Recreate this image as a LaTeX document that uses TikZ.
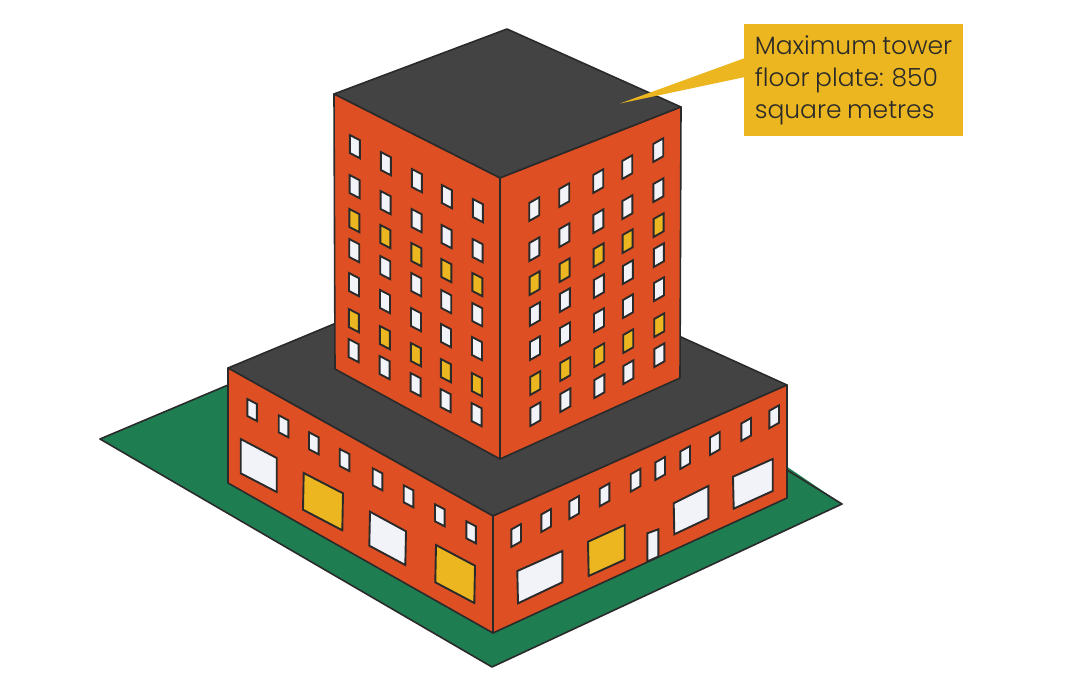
\documentclass[tikz,border=0pt]{standalone}
\usepackage{fontspec}
\setmainfont{Poppins Light}[BoldFont={Poppins},WordSpace=0.8]
\definecolor{brick}{HTML}{DE5023}
\definecolor{roof}{HTML}{434343}
\definecolor{lawn}{HTML}{1F7D52}
\definecolor{amber}{HTML}{EBB61F}
\definecolor{pane}{HTML}{F1F3F8}
\definecolor{ink}{HTML}{2A2A2A}
\tikzset{
  solid shape/.style={draw=ink,line width=1.6pt,line join=round},
  pane shape/.style={draw=ink,line width=1.9pt,line join=miter},
}
\newcommand\win[6]{\draw[pane shape,fill=#6] (#1,#2) -- (#1+#3,#2+#5) -- (#1+#3,#2+#5+#4) -- (#1,#2+#4) -- cycle;}
\newcommand\quadwin[9]{\draw[pane shape,fill=#9] (#1,#2) -- (#3,#4) -- (#5,#6) -- (#7,#8) -- cycle;}
\begin{document}
\begin{tikzpicture}[x=1pt,y=-1pt]
\useasboundingbox (0,0) rectangle (1080,675);
% ground
\fill[lawn] (100,439) -- (300,355) -- (600,340) -- (842,504) -- (492,667) -- cycle;
\draw[solid shape] (228,385) -- (100,439) -- (492,667) -- (842,504) -- (787,470);
% podium
\draw[solid shape,fill=roof] (228,368) -- (500,255) -- (787,385) -- (493,516) -- cycle;
\draw[solid shape,fill=brick] (228,368) -- (493,516) -- (493,633) -- (228,483) -- cycle;
\draw[solid shape,fill=brick] (493,516) -- (787,385) -- (787,498) -- (493,633) -- cycle;
% tower
\draw[solid shape,fill=roof] (507,29) -- (681,107) -- (500,178) -- (334,94) -- cycle;
\draw[solid shape,fill=brick] (334,94) -- (500,178) -- (500,459) -- (335,369) -- cycle;
\draw[solid shape,fill=brick] (500,178) -- (681,107) -- (680,378) -- (500,459) -- cycle;
% tower windows, left face
\foreach \x/\ys in {350/{135,175,209,239,273,309,339},
                    381/{152,191,225,256,290,326,356},
                    412/{169,209,243,273,308,343,373},
                    442/{185,225,259,290,324,359,389},
                    473/{199,239,273,303,337,373,403}}{
  \foreach \y [count=\r] in \ys {
    \ifnum\r=3 \def\c{amber}\else\ifnum\r=6 \def\c{amber}\else\def\c{pane}\fi\fi
    \win{\x-0.2*\r}{\y}{10}{18}{5.2}{\c}
  }
}
% tower windows, right face (y of the lower left corner)
\foreach \x/\ys in {529/{221,261,295,326,360,395,426},
                    559/{207,247,282,312,346,381,412},
                    593/{193,233,267,298,332,367,398},
                    622/{179,219,253,284,318,353,384},
                    653/{162,202,237,267,301,337,367}}{
  \foreach \y [count=\r] in \ys {
    \ifnum\r=3 \def\c{amber}\else\ifnum\r=6 \def\c{amber}\else\def\c{pane}\fi\fi
    \win{\x+0.2*\r}{\y-18}{10}{18}{-5.7}{\c}
  }
}
% podium small windows, left face
\foreach \x/\y in {247.3/399,278.7/415.3,309/432.3,339.7/449,372.7/468.3,403.7/485.3,435/504.3,466.3/521.3}{
  \win{\x}{\y}{9.6}{17}{5}{pane}
}
% podium small windows, right face (y of the lower left corner)
\foreach \x/\y in {511.3/547,541.3/532,569.3/519,599.7/506.3,630.7/491.7,655.3/480,680.3/469,710/455,741.3/441,769.3/428.3}{
  \win{\x}{\y-17.5}{9.7}{17.5}{-5.5}{pane}
}
% podium large windows, left face
\quadwin{240.7}{439}{276.7}{458}{276.7}{492}{240.7}{473.3}{pane}
\quadwin{303.7}{473}{343}{493.3}{342.3}{530.3}{303}{509.7}{amber}
\quadwin{370}{511.7}{406}{531.3}{405.3}{565}{369.3}{545.7}{pane}
\quadwin{436}{545}{475}{565.7}{474.3}{603}{435.3}{582.3}{amber}
% podium large windows and door, right face
\quadwin{517.3}{571}{562.3}{551}{562.3}{582.3}{518}{603.3}{pane}
\quadwin{588}{541.7}{624.7}{525}{624.7}{559.7}{588.7}{576}{amber}
\quadwin{647.3}{533.3}{658.3}{529.3}{658.3}{556.5}{647.3}{561.5}{pane}
\quadwin{673.7}{503.3}{708.3}{486}{708.3}{518.3}{674.3}{534.3}{pane}
\quadwin{733}{476.7}{772.7}{459}{772.7}{491}{733.7}{508.7}{pane}
% callout
\node[anchor=north west,fill=amber,text=ink,minimum width=219pt,minimum height=112pt,
      inner xsep=0pt,inner ysep=0pt,align=left,outer sep=0pt,
      font=\fontsize{25}{32}\selectfont] (callout) at (744,24)
  {Maximum tower\\ floor plate: 850\\ square metres};
\coordinate (tip) at (620,103.5);
\fill[amber] (745,58) -- (tip) -- (745,77) -- cycle;
\end{tikzpicture}
\end{document}
